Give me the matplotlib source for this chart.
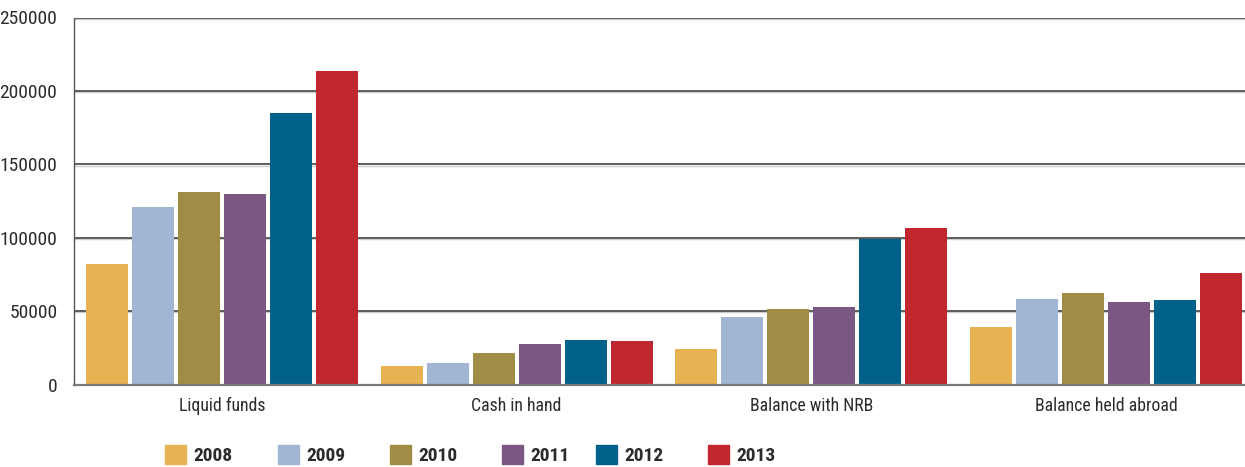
import matplotlib
matplotlib.use("Agg")
import matplotlib.pyplot as plt
import matplotlib.font_manager as fm
import numpy as np
from matplotlib.font_manager import FontProperties
from matplotlib.patches import Patch

categories = ["Liquid funds", "Cash in hand", "Balance with NRB", "Balance held abroad"]
years = ["2008", "2009", "2010", "2011", "2012", "2013"]
v2008 = [81800, 12700, 24300, 39300]
v2009 = [120700, 14700, 46100, 58400]
v2010 = [130900, 21600, 51600, 62500]
v2011 = [129500, 27700, 52900, 56300]
v2012 = [185000, 30400, 99100, 57700]
v2013 = [213600, 29700, 106600, 75700]
series = [v2008, v2009, v2010, v2011, v2012, v2013]
colors = ["#E6B252", "#A1B5D5", "#A08C44", "#7B5884", "#01618B", "#C1272F"]
yticks = [0, 50000, 100000, 150000, 200000, 250000]

# pick a condensed font if one is installed
names = {f.name for f in fm.fontManager.ttflist}
cond = [(f.name, f.stretch) for f in fm.fontManager.ttflist
        if ("Narrow" in f.name or "Condensed" in f.name or
            str(f.stretch) in ("condensed", "semi-condensed", "extra-condensed"))]
fname, fstretch, scale = "Liberation Sans", "normal", 0.86
for pref in ["Liberation Sans Narrow", "Roboto Condensed", "Open Sans Condensed",
             "Noto Sans Condensed", "DejaVu Sans Condensed"]:
    if pref in names:
        fname, fstretch, scale = pref, "normal", 1.0
        break
else:
    if cond:
        fname, fstretch = cond[0]
        scale = 1.0
fam = [fname, "DejaVu Sans"]
txtc = "#2b2b2b"

def fp(size, weight="normal"):
    return FontProperties(family=fam, size=size*scale, weight=weight, stretch=fstretch)

W, H = 1245, 467
fig = plt.figure(figsize=(W/100, H/100), dpi=100)
ax = fig.add_axes([74/W, 1-384.5/H, (W-74)/W, (384.5-17.5)/H])

x = np.arange(len(categories))
step = 46/294.7
width = 42/294.7
for i, (vals, c, yr) in enumerate(zip(series, colors, years)):
    ax.bar(x + (i-2.5)*step, vals, width=width, color=c, label=yr, zorder=3)

ax.set_xlim(-0.502, 3.472)
ax.set_ylim(0, 250000)
ax.set_yticks(yticks)
ax.set_yticklabels([str(t) for t in yticks], fontproperties=fp(14), color=txtc)
ax.set_xticks(x)
ax.set_xticklabels(categories, fontproperties=fp(12.8), color=txtc)
ax.tick_params(axis="both", length=0)
ax.tick_params(axis="y", pad=12)
ax.tick_params(axis="x", pad=9)
for yv in yticks[1:]:
    ax.axhline(yv, color="#505050", lw=1.3, zorder=1)
    ax.axhline(yv - 900, color="#cccccc", lw=1.0, zorder=0.9)
for s in ["top", "right"]:
    ax.spines[s].set_visible(False)
ax.spines["left"].set_color("#555555")
ax.spines["left"].set_linewidth(1.0)
ax.spines["bottom"].set_color("#7a7a7a")
ax.spines["bottom"].set_linewidth(1.6)
ax.spines["bottom"].set_zorder(4)

# legend: one entry per year, placed as in the reference
leg_x = [165, 278, 390, 502, 596, 708]
lfs = 14 * scale
for yr, c, lx in zip(years, colors, leg_x):
    leg = fig.legend(handles=[Patch(color=c, label=yr)], loc="lower left",
                     bbox_to_anchor=(lx/W, 2/H), frameon=False, prop=fp(14, "bold"),
                     handlelength=15.1/lfs, handleheight=15.1/lfs,
                     handletextpad=5.5/lfs, borderpad=0, borderaxespad=0)
    for t in leg.get_texts():
        t.set_color(txtc)

fig.savefig("out.png", dpi=100)
